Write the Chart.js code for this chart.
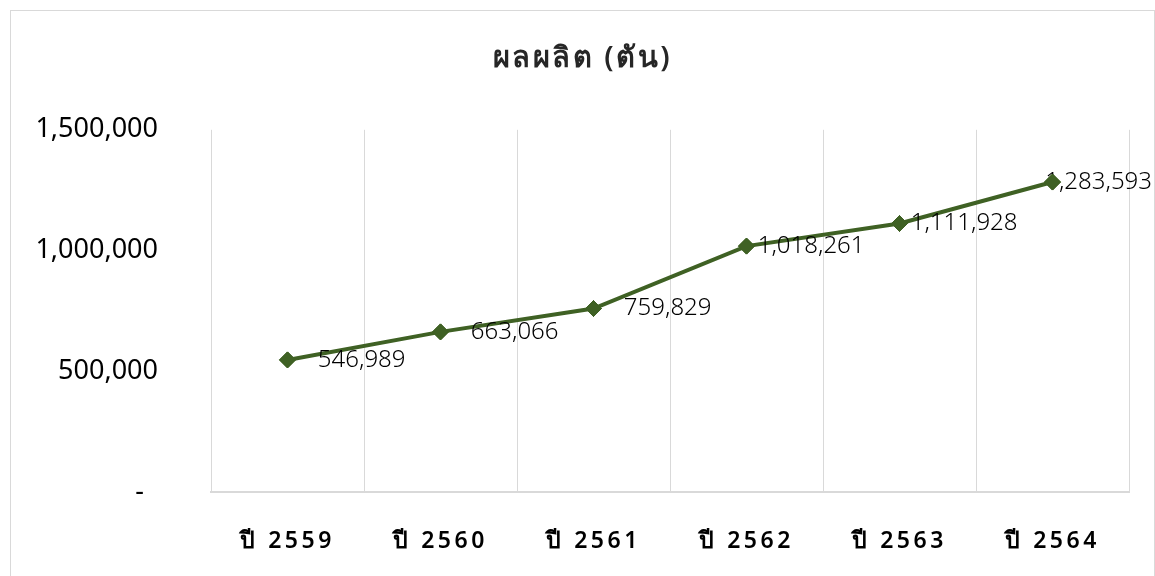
<!DOCTYPE html>
<html>
<head>
<meta charset="utf-8">
<script src="https://cdn.jsdelivr.net/npm/chart.js@4"></script>
<style>
  body { margin: 0; background: #fff; }
</style>
</head>
<body>
<canvas id="myChart" width="1155" height="576"></canvas>
<script>
const years = ['ปี 2559', 'ปี 2560', 'ปี 2561', 'ปี 2562', 'ปี 2563', 'ปี 2564'];
const output = [546989, 663066, 759829, 1018261, 1111928, 1283593];
const yTicks = [0, 500000, 1000000, 1500000];
const chartTitle = 'ผลผลิต (ตัน)';

const fontFamily = "'Noto Sans', 'DejaVu Sans', sans-serif";
const lineColor = '#3f6124';

const frame = {
    id: 'frame',
    beforeDraw(chart) {
        const ctx = chart.ctx;
        ctx.save();
        ctx.strokeStyle = '#d9d9d9';
        ctx.lineWidth = 1;
        ctx.strokeRect(10.5, 10.5, chart.width - 11, chart.height);
        ctx.restore();
    }
};

const valueLabels = {
    id: 'valueLabels',
    afterDatasetsDraw(chart) {
        const ctx = chart.ctx;
        const meta = chart.getDatasetMeta(0);
        ctx.save();
        ctx.letterSpacing = '0px';
        ctx.font = "300 24px " + fontFamily;
        ctx.fillStyle = '#000';
        ctx.textAlign = 'right';
        ctx.textBaseline = 'middle';
        meta.data.forEach((pt, i) => {
            const x = Math.min(pt.x + 118, chart.width - 3);
            ctx.fillText(output[i].toLocaleString('en-US'), x, pt.y);
        });
        ctx.restore();
        // markers sit on top of the labels in the reference
        meta.data.forEach(pt => pt.draw(ctx));
    }
};

const chart = new Chart(document.getElementById('myChart'), {
    type: 'line',
    data: {
        labels: years,
        datasets: [{
            data: output,
            borderColor: lineColor,
            backgroundColor: lineColor,
            borderWidth: 4,
            pointStyle: 'rectRot',
            pointRadius: 8,
            pointBorderWidth: 1,
            tension: 0
        }]
    },
    options: {
        responsive: false,
        animation: false,
        layout: { padding: { left: 36, right: 26, top: 0, bottom: 0 } },
        plugins: {
            legend: { display: false },
            tooltip: { enabled: false },
            title: {
                display: true,
                text: chartTitle,
                color: '#262626',
                font: { family: fontFamily, size: 29, weight: '600' },
                padding: { top: 41, bottom: 54 }
            }
        },
        scales: {
            x: {
                offset: true,
                grid: { color: '#d9d9d9', lineWidth: 1, drawTicks: false, offset: true },
                border: { color: '#d9d9d9', width: 2 },
                ticks: {
                    color: '#000',
                    padding: 36,
                    font: { family: fontFamily, size: 23, weight: '600' }
                },
                afterFit(scale) { scale.height = 84; }
            },
            y: {
                min: 0,
                max: 1500000,
                grid: { display: false, drawTicks: false },
                border: { display: false },
                afterBuildTicks(scale) {
                    scale.ticks = yTicks.map(v => ({ value: v }));
                },
                ticks: {
                    color: '#000',
                    padding: 53,
                    font: { family: fontFamily, size: 27 },
                    callback: v => v === 0 ? '-  ' : v.toLocaleString('en-US')
                },
                afterFit(scale) { scale.width = 211 - 36; }
            }
        }
    },
    plugins: [frame, valueLabels]
});

// letter spacing only on the title and the year labels
function spaced(obj, method, px) {
    const orig = obj[method];
    obj[method] = function (...args) {
        const ctx = this.ctx;
        const prev = ctx.letterSpacing;
        ctx.letterSpacing = px;
        const r = orig.apply(this, args);
        ctx.letterSpacing = prev;
        return r;
    };
}
spaced(chart.titleBlock, 'draw', '2.5px');
spaced(chart.scales.x, 'drawLabels', '3.5px');
chart.draw();
</script>
</body>
</html>
